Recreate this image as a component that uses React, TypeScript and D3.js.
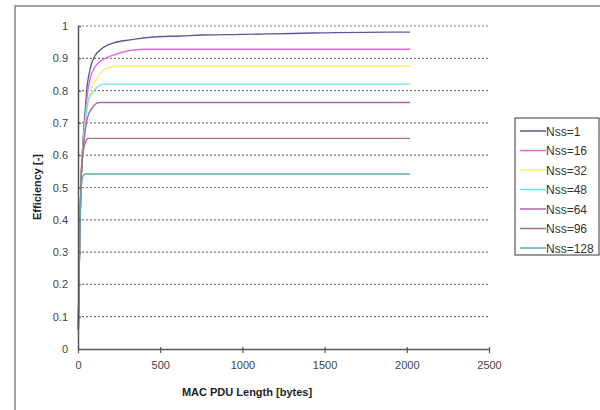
import React, { useEffect, useRef } from 'react';
import * as d3 from 'd3';

// [MAC PDU length (bytes), efficiency]
const nss1 = [[2, 0.06], [6, 0.2], [10, 0.33], [15, 0.45], [20, 0.54], [30, 0.64], [40, 0.71], [55, 0.81], [75, 0.87], [100, 0.905], [135, 0.926], [214, 0.947], [318, 0.957], [457, 0.966], [621, 0.969], [761, 0.972], [1004, 0.974], [1308, 0.977], [1879, 0.981], [2020, 0.981]];
const nss16 = [[2, 0.06], [6, 0.2], [10, 0.33], [15, 0.45], [20, 0.54], [30, 0.63], [40, 0.69], [55, 0.78], [75, 0.839], [105, 0.874], [155, 0.897], [215, 0.91], [318, 0.924], [419, 0.928], [2020, 0.928]];
const nss32 = [[2, 0.06], [6, 0.2], [10, 0.33], [15, 0.45], [20, 0.54], [30, 0.62], [40, 0.68], [55, 0.75], [75, 0.797], [115, 0.838], [155, 0.864], [200, 0.873], [257, 0.876], [2020, 0.876]];
const nss48 = [[2, 0.06], [6, 0.2], [10, 0.33], [15, 0.45], [20, 0.54], [30, 0.61], [40, 0.67], [63, 0.771], [93, 0.796], [125, 0.815], [155, 0.82], [2020, 0.82]];
const nss64 = [[2, 0.06], [6, 0.2], [10, 0.33], [15, 0.45], [20, 0.54], [30, 0.61], [40, 0.66], [60, 0.72], [85, 0.745], [110, 0.76], [135, 0.763], [2020, 0.763]];
const nss96 = [[2, 0.06], [6, 0.2], [10, 0.33], [15, 0.45], [20, 0.53], [30, 0.6], [45, 0.64], [63, 0.652], [2020, 0.652]];
const nss128 = [[2, 0.06], [6, 0.2], [10, 0.33], [15, 0.44], [20, 0.5], [30, 0.535], [44, 0.542], [2020, 0.542]];

const seriesNames = ['Nss=1', 'Nss=16', 'Nss=32', 'Nss=48', 'Nss=64', 'Nss=96', 'Nss=128'];
const seriesData = [nss1, nss16, nss32, nss48, nss64, nss96, nss128];
const seriesColors = ['#5a5a98', '#e368e3', '#f0f070', '#72e4e4', '#ad66ad', '#a87272', '#5eaaaa'];

const xTicks = [0, 500, 1000, 1500, 2000, 2500];
const yTicks = [0, 0.1, 0.2, 0.3, 0.4, 0.5, 0.6, 0.7, 0.8, 0.9, 1];

const App = () => {
	const chartRef = useRef(null);

	useEffect(() => {
		const margin = { top: 26, left: 78 };
		const width = 411;
		const height = 323;

		d3.select(chartRef.current).selectAll('*').remove();

		const root = d3.select(chartRef.current)
			.append('svg')
			.attr('width', 600)
			.attr('height', 410)
			.style('position', 'absolute')
			.style('left', 0)
			.style('top', 0)
			.style('font-family', 'Liberation Sans, Arial, sans-serif');

		root.append('rect').attr('width', 600).attr('height', 410).attr('fill', '#fff');
		// outer chart frame (runs off the picture on the right and bottom)
		root.append('rect')
			.attr('x', 15).attr('y', 6)
			.attr('width', 620).attr('height', 430)
			.attr('fill', 'none')
			.attr('stroke', '#a0a0a0')
			.attr('stroke-width', 2);

		const svg = root.append('g').attr('transform', `translate(${margin.left},${margin.top})`);

		const x = d3.scaleLinear().domain([0, 2500]).range([0, width]);
		const y = d3.scaleLinear().domain([0, 1]).range([height, 0]);

		// dotted gridlines
		svg.append('g')
			.selectAll('line')
			.data(yTicks.filter(d => d > 0))
			.join('line')
			.attr('x1', 0).attr('x2', width)
			.attr('y1', d => y(d)).attr('y2', d => y(d))
			.attr('stroke', '#777')
			.attr('stroke-width', 1.2)
			.attr('stroke-dasharray', '2,2');

		const line = d3.line()
			.x(d => x(d[0]))
			.y(d => y(d[1]))
			.curve(d3.curveMonotoneX);

		seriesData.forEach((s, i) => {
			svg.append('path')
				.datum(s)
				.attr('fill', 'none')
				.attr('stroke', seriesColors[i])
				.attr('stroke-width', 1.4)
				.attr('d', line);
		});

		const xAxis = svg.append('g')
			.attr('transform', `translate(0,${height})`)
			.call(d3.axisBottom(x).tickValues(xTicks).tickFormat(d3.format('d')).tickSizeInner(4).tickSizeOuter(0).tickPadding(8));
		xAxis.selectAll('.tick line').attr('y1', -2);

		const yAxis = svg.append('g')
			.call(d3.axisLeft(y).tickValues(yTicks).tickFormat(d => d === 0 || d === 1 ? String(d) : d3.format('.1f')(d)).tickSizeInner(4).tickSizeOuter(0).tickPadding(6));
		yAxis.selectAll('.tick line').attr('x2', 3);

		[xAxis, yAxis].forEach(a => {
			a.select('.domain').attr('stroke', '#555').attr('stroke-width', 1.5);
			a.selectAll('.tick line').attr('stroke', '#555').attr('stroke-width', 1.2);
			a.selectAll('.tick text').attr('fill', '#444').style('font-size', '11px').style('font-family', 'Liberation Sans, Arial, sans-serif');
		});

		root.append('text')
			.attr('x', 247).attr('y', 396)
			.attr('text-anchor', 'middle')
			.attr('fill', '#222')
			.style('font-size', '11px')
			.style('font-weight', 'bold')
			.text('MAC PDU Length [bytes]');

		root.append('text')
			.attr('transform', 'translate(41,187) rotate(-90)')
			.attr('text-anchor', 'middle')
			.attr('fill', '#222')
			.style('font-size', '11px')
			.style('font-weight', 'bold')
			.text('Efficiency [-]');

		// legend
		const legend = root.append('g').attr('transform', 'translate(515,118)');
		legend.append('rect')
			.attr('width', 84).attr('height', 137)
			.attr('fill', '#fff')
			.attr('stroke', '#555')
			.attr('stroke-width', 1.2);

		seriesNames.forEach((name, i) => {
			const row = legend.append('g').attr('transform', `translate(0,${13 + i * 19.5})`);
			row.append('line')
				.attr('x1', 5).attr('x2', 31)
				.attr('stroke', seriesColors[i])
				.attr('stroke-width', 1.5);
			row.append('text')
				.attr('x', 31).attr('y', 4.5)
				.attr('fill', '#333')
				.style('font-size', '12px')
				.text(name);
		});
	}, []);

	return <div ref={chartRef}></div>;
};

export default App;
